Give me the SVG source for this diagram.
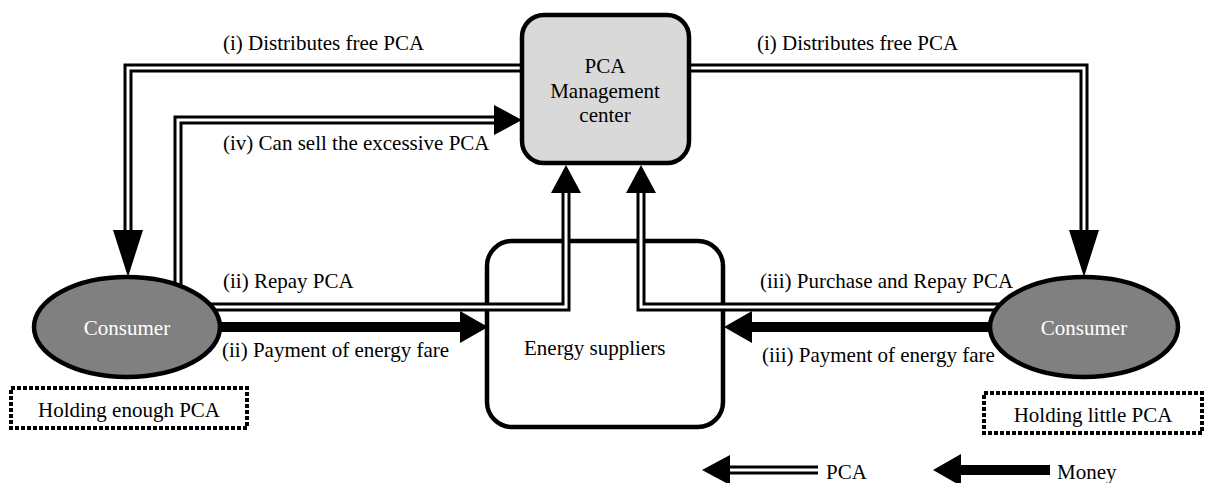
<svg xmlns="http://www.w3.org/2000/svg" width="1209" height="483" viewBox="0 0 1209 483" font-family="'Liberation Serif', Tinos, 'DejaVu Serif', serif">
  <style>
    text { font-family: "Liberation Serif", Tinos, "DejaVu Serif", serif; font-size: 21px; fill: #000; }
    .pca-out { fill: none; stroke: #000; stroke-width: 9; stroke-linejoin: miter; }
    .pca-in { fill: none; stroke: #fff; stroke-width: 3; stroke-linejoin: miter; }
    .money { fill: none; stroke: #000; stroke-width: 10; }
    .box { stroke: #000; stroke-width: 4.5; }
    .note { fill: #fff; stroke: #000; stroke-width: 4; stroke-dasharray: 4 2; }
    text.white { fill: #fff; }
  </style>
  <defs>
    <marker id="head" markerUnits="userSpaceOnUse" markerWidth="40" markerHeight="40" refX="0" refY="15" orient="auto" overflow="visible">
      <path d="M0,0 L28,15 L0,30 Z" fill="#000"/>
    </marker>
    <marker id="head-long" markerUnits="userSpaceOnUse" markerWidth="60" markerHeight="40" refX="0" refY="15" orient="auto" overflow="visible">
      <path d="M0,0 L47,15 L0,30 Z" fill="#000"/>
    </marker>
    <marker id="head-money" markerUnits="userSpaceOnUse" markerWidth="40" markerHeight="40" refX="0" refY="16" orient="auto" overflow="visible">
      <path d="M0,0 L28,16 L0,32 Z" fill="#000"/>
    </marker>
  </defs>

  <!-- energy suppliers sits under the PCA lines that cross it -->
  <g id="energy-suppliers">
    <rect class="box" x="487" y="241" width="236" height="186" rx="25" fill="#fff"/>
    <text x="524" y="355">Energy suppliers</text>
  </g>

  <g id="connectors">
    <!-- (i) distribution, left -->
    <path class="pca-out" d="M524,68 H128 V230" marker-end="url(#head-long)"/>
    <path class="pca-in" d="M524,68 H128 V230"/>
    <!-- (i) distribution, right -->
    <path class="pca-out" d="M688,68 H1084 V230" marker-end="url(#head-long)"/>
    <path class="pca-in" d="M688,68 H1084 V230"/>
    <!-- (iv) selling excess -->
    <path class="pca-out" d="M178,290 V120 H494" marker-end="url(#head)"/>
    <path class="pca-in" d="M178,290 V120 H494"/>
    <!-- (ii) repay -->
    <path class="pca-out" d="M210,307 H566 V193" marker-end="url(#head)"/>
    <path class="pca-in" d="M210,307 H566 V193"/>
    <!-- (iii) purchase and repay -->
    <path class="pca-out" d="M1002,307 H641 V193" marker-end="url(#head)"/>
    <path class="pca-in" d="M1002,307 H641 V193"/>
    <!-- money flows -->
    <path class="money" d="M215,327 H460" marker-end="url(#head-money)"/>
    <path class="money" d="M995,327 H752" marker-end="url(#head-money)"/>

    <text x="223" y="50">(i) Distributes free PCA</text>
    <text x="757" y="50">(i) Distributes free PCA</text>
    <text x="223" y="150">(iv) Can sell the excessive PCA</text>
    <text x="223" y="288">(ii) Repay PCA</text>
    <text x="222" y="357">(ii) Payment of energy fare</text>
    <text x="760" y="288">(iii) Purchase and Repay PCA</text>
    <text x="762" y="362">(iii) Payment of energy fare</text>
  </g>

  <g id="pca-management-center">
    <rect class="box" x="522" y="15" width="167" height="148" rx="22" fill="#d9d9d9"/>
    <text x="605" y="73" text-anchor="middle">PCA</text>
    <text x="605" y="98" text-anchor="middle">Management</text>
    <text x="605" y="122" text-anchor="middle">center</text>
  </g>

  <g id="consumer-left">
    <ellipse class="box" cx="127" cy="327" rx="93" ry="50" fill="#808080"/>
    <text class="white" x="127" y="335" text-anchor="middle">Consumer</text>
  </g>

  <g id="consumer-right">
    <ellipse class="box" cx="1084" cy="327" rx="94" ry="50" fill="#808080"/>
    <text class="white" x="1084" y="335" text-anchor="middle">Consumer</text>
  </g>

  <g id="note-left">
    <rect class="note" x="11" y="388" width="236" height="40"/>
    <text x="129" y="417" text-anchor="middle">Holding enough PCA</text>
  </g>

  <g id="note-right">
    <rect class="note" x="984" y="393" width="218" height="40"/>
    <text x="1093" y="422" text-anchor="middle">Holding little PCA</text>
  </g>

  <g id="legend">
    <path class="pca-out" d="M818,470 H730" marker-end="url(#head)"/>
    <path class="pca-in" d="M818,470 H730"/>
    <text x="826" y="479">PCA</text>
    <path class="money" d="M1050,470 H961" marker-end="url(#head-money)"/>
    <text x="1057" y="479">Money</text>
  </g>
</svg>
